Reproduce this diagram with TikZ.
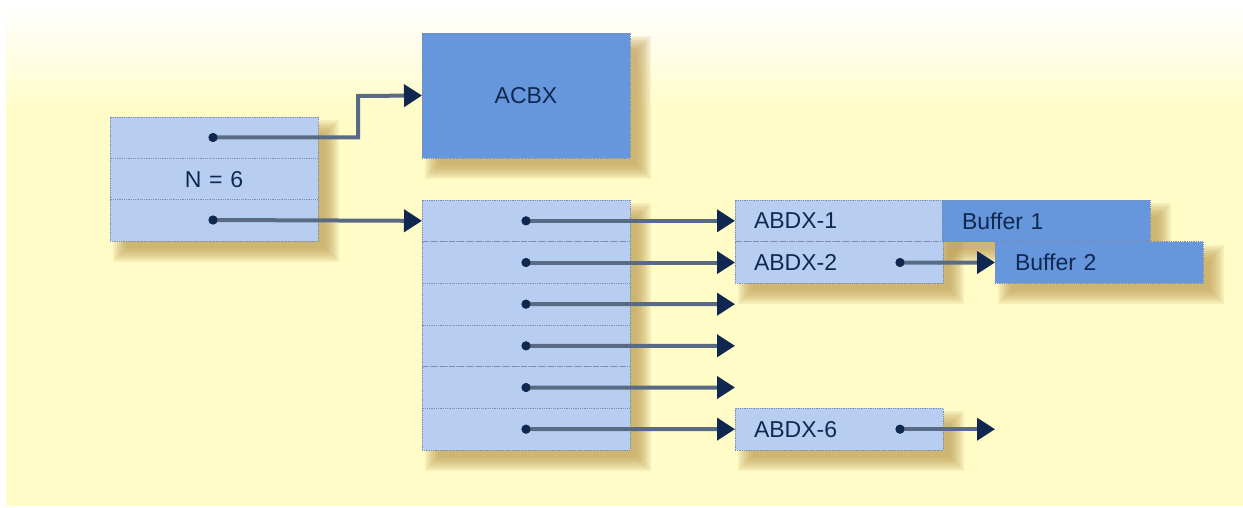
\documentclass[tikz,border=0pt]{standalone}
\usepackage{fontspec}
\setmainfont{Liberation Sans}
\usetikzlibrary{arrows.meta,calc,backgrounds}
\definecolor{bgy}{RGB}{255,252,200}
\definecolor{lightb}{RGB}{184,206,240}
\definecolor{darkb}{RGB}{102,150,220}
\definecolor{cellborder}{RGB}{120,140,185}
\definecolor{navy}{RGB}{16,40,80}
\definecolor{linec}{RGB}{88,106,132}
\definecolor{shadowc}{RGB}{185,150,75}
\tikzset{
  cell/.style={draw=cellborder, densely dotted, line width=0.8pt, fill=lightb,
    minimum width=208pt, minimum height=41.67pt, inner sep=0pt, outer sep=0pt,
    anchor=north west, font=\fontsize{23}{27}\selectfont, text=navy},
  darkcell/.style={cell, fill=darkb},
  ptr/.style={draw=linec, line width=4pt,
    -{Triangle[length=18pt,width=22pt,color=navy,fill=navy]}},
  ptrdot/.style={circle, fill=navy, inner sep=0pt, minimum size=9pt},
}
\newcommand{\softshadow}[2]{%
  \foreach \k in {0,...,7}{%
    \fill[shadowc, opacity=0.13]
      ($(#1)+(3+2*\k,3+2*\k)$) rectangle ($(#2)+(21-2*\k,21-2*\k)$);
  }%
}
\begin{document}
\begin{tikzpicture}[x=1pt,y=-1pt]
\useasboundingbox (0,0) rectangle (1243,508);

% left box
\node[cell] (L1) at (110,117) {};
\node[cell] (L2) at (110,158.33) {N\,\,=\,\,6};
\node[cell] (L3) at (110,199.67) {};
% ACBX
\node[darkcell, minimum height=125pt] (A) at (422,33) {ACBX};
% middle box
\foreach \i in {1,...,6}{
  \node[cell] (M\i) at (422,{200+(\i-1)*41.67}) {};
}
% ABDX boxes
\node[cell, text width=170pt, align=left] (B1) at (735,200) {ABDX-1};
\node[cell, text width=170pt, align=left] (B2) at (735,241.67) {ABDX-2};
\node[cell, text width=170pt, align=left] (B6) at (735,408.33) {ABDX-6};
% buffers
\node[darkcell, text width=168pt, align=left] (F1) at (942,200) {Buffer 1};
\node[darkcell, text width=168pt, align=left] (F2) at (995,241.67) {Buffer 2};

% background and shadows
\begin{scope}[on background layer]
\fill[white] (0,0) rectangle (1243,508);
\fill[bgy] (6,110) rectangle (1243,506);
\shade[top color=white, bottom color=bgy] (6,4) rectangle (1243,110.5);
\softshadow{L1.north west}{L3.south east}
\softshadow{A.north west}{A.south east}
\softshadow{M1.north west}{M6.south east}
\softshadow{B1.north west}{B2.south east}
\softshadow{B6.north west}{B6.south east}
\softshadow{F1.north west}{F1.south east}
\softshadow{F2.north west}{F2.south east}
\end{scope}

% pointer dots
\node[ptrdot] (dL1) at (213,137.5) {};
\node[ptrdot] (dL3) at (213,220) {};
\foreach \i in {1,...,6}{
  \node[ptrdot] (dM\i) at (M\i.center) {};
}
\node[ptrdot] (dB2) at (900,262.5) {};
\node[ptrdot] (dB6) at (900,429.2) {};
\coordinate (e3) at (735,304.2);
\coordinate (e4) at (735,345.8);
\coordinate (e5) at (735,387.5);
\coordinate (end6) at (995,429.2);

% connectors
\draw[ptr] (dL1.center) -- (358,137.5) -- (358,96) -- (A.west);
\draw[ptr] (dL3.center) -- (M1.west);
\draw[ptr] (dM1.center) -- (B1.west);
\draw[ptr] (dM2.center) -- (B2.west);
\draw[ptr] (dM3.center) -- (e3);
\draw[ptr] (dM4.center) -- (e4);
\draw[ptr] (dM5.center) -- (e5);
\draw[ptr] (dM6.center) -- (B6.west);
\draw[ptr] (dB2.center) -- (F2.west);
\draw[ptr] (dB6.center) -- (end6);
% dots on top
\foreach \n in {dL1,dL3,dM1,dM2,dM3,dM4,dM5,dM6,dB2,dB6}{
  \fill[navy] (\n.center) circle (4.5pt);
}
\end{tikzpicture}
\end{document}
